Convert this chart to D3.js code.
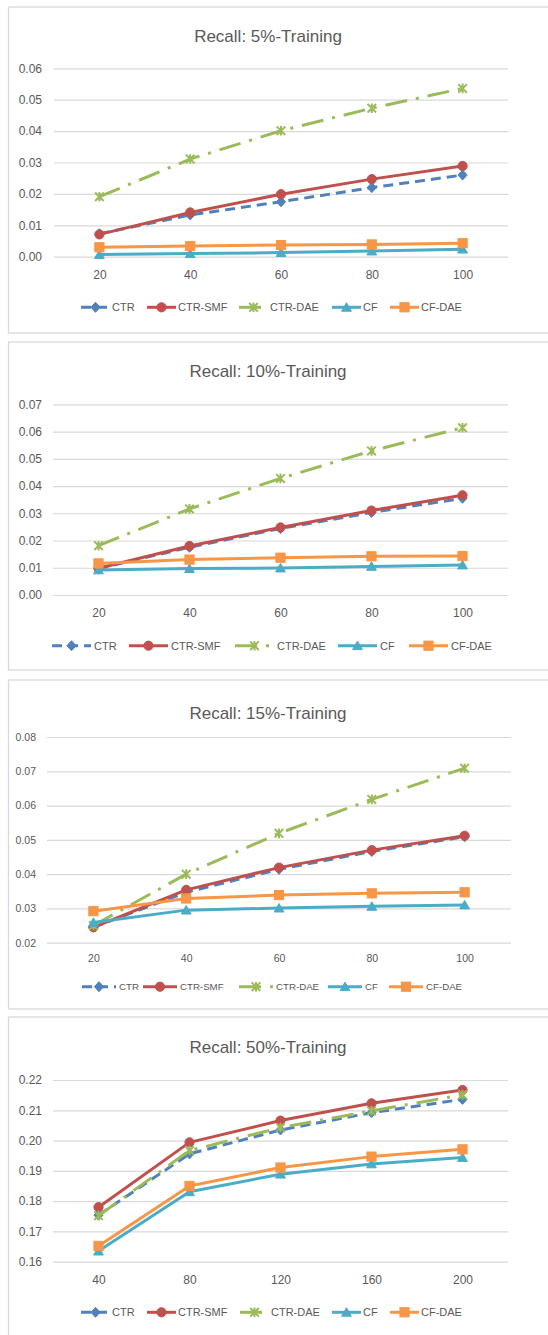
<!DOCTYPE html>
<html>
<head>
<meta charset="utf-8">
<script src="https://cdn.jsdelivr.net/npm/d3@7"></script>
<style>
  html, body { margin: 0; padding: 0; background: #ffffff; }
  svg { display: block; }
  text { font-family: "Liberation Sans", Arial, sans-serif; fill: #595959; }
</style>
</head>
<body>
<svg id="chart" width="548" height="1335"></svg>
<script>
// ---- data ----
const seriesNames = ["CTR", "CTR-SMF", "CTR-DAE", "CF", "CF-DAE"];
const topNSmall = ["20", "40", "60", "80", "100"];
const topNLarge = ["40", "80", "120", "160", "200"];

const recall5_CTR    = [0.0073, 0.0133, 0.0175, 0.0220, 0.0260];
const recall5_CTRSMF = [0.0071, 0.0141, 0.0199, 0.0247, 0.0289];
const recall5_CTRDAE = [0.0191, 0.0311, 0.0401, 0.0473, 0.0536];
const recall5_CF     = [0.0007, 0.0010, 0.0013, 0.0018, 0.0024];
const recall5_CFDAE  = [0.0030, 0.0034, 0.0037, 0.0039, 0.0043];

const recall10_CTR    = [0.0097, 0.0175, 0.0244, 0.0303, 0.0355];
const recall10_CTRSMF = [0.0098, 0.0180, 0.0248, 0.0310, 0.0366];
const recall10_CTRDAE = [0.0181, 0.0316, 0.0428, 0.0529, 0.0614];
const recall10_CF     = [0.0092, 0.0097, 0.0099, 0.0105, 0.0110];
const recall10_CFDAE  = [0.0116, 0.0130, 0.0137, 0.0142, 0.0143];

const recall15_CTR    = [0.0245, 0.0347, 0.0414, 0.0466, 0.0509];
const recall15_CTRSMF = [0.0245, 0.0354, 0.0419, 0.0470, 0.0512];
const recall15_CTRDAE = [0.0250, 0.0400, 0.0519, 0.0618, 0.0709];
const recall15_CF     = [0.0259, 0.0295, 0.0301, 0.0306, 0.0310];
const recall15_CFDAE  = [0.0292, 0.0329, 0.0339, 0.0344, 0.0347];

const recall50_CTR    = [0.1754, 0.1956, 0.2035, 0.2092, 0.2136];
const recall50_CTRSMF = [0.1780, 0.1994, 0.2066, 0.2123, 0.2167];
const recall50_CTRDAE = [0.1752, 0.1967, 0.2043, 0.2098, 0.2151];
const recall50_CF     = [0.1635, 0.1831, 0.1889, 0.1923, 0.1944];
const recall50_CFDAE  = [0.1652, 0.1850, 0.1911, 0.1947, 0.1971];

const yTicks5  = [0.00, 0.01, 0.02, 0.03, 0.04, 0.05, 0.06];
const yTicks10 = [0.00, 0.01, 0.02, 0.03, 0.04, 0.05, 0.06, 0.07];
const yTicks15 = [0.02, 0.03, 0.04, 0.05, 0.06, 0.07, 0.08];
const yTicks50 = [0.16, 0.17, 0.18, 0.19, 0.20, 0.21, 0.22];

// ---- series styling ----
const styles = {
  "CTR":     { color: "#4F81BD", dash: "10,6",        marker: "diamond" },
  "CTR-SMF": { color: "#C0504D", dash: null,          marker: "circle" },
  "CTR-DAE": { color: "#9BBB59", dash: "22,9,3,9",    marker: "star" },
  "CF":      { color: "#4BACC6", dash: null,          marker: "triangle" },
  "CF-DAE":  { color: "#F79646", dash: null,          marker: "square" }
};

// ---- panel layout ----
const panels = [
  { title: "Recall: 5%-Training", cats: topNSmall, ticks: yTicks5,
    values: [recall5_CTR, recall5_CTRSMF, recall5_CTRDAE, recall5_CF, recall5_CFDAE],
    box: [7, 333], plot: { l: 54, r: 508, t: 68.3, b: 256.7 },
    titleY: 41.5, xLabelY: 275, legendY: 307.3,
    legendX: [81, 147, 239, 332, 390], legendLen: 29, legendGap: 2,
    tickFs: 12, legendFs: 11, tickRight: 42 },
  { title: "Recall: 10%-Training", cats: topNSmall, ticks: yTicks10,
    values: [recall10_CTR, recall10_CTRSMF, recall10_CTRDAE, recall10_CF, recall10_CFDAE],
    box: [342, 670], plot: { l: 53, r: 508, t: 404.3, b: 595 },
    titleY: 377, xLabelY: 612.3, legendY: 645.7,
    legendX: [52, 129, 235, 338, 409], legendLen: 39, legendGap: 3,
    tickFs: 12, legendFs: 11, tickRight: 42 },
  { title: "Recall: 15%-Training", cats: topNSmall, ticks: yTicks15,
    values: [recall15_CTR, recall15_CTRSMF, recall15_CTRDAE, recall15_CF, recall15_CFDAE],
    box: [680, 1009], plot: { l: 47, r: 511, t: 737, b: 942.7 },
    titleY: 719, xLabelY: 958.3, legendY: 986.7,
    legendX: [82, 143, 239, 328, 389], legendLen: 34, legendGap: 3,
    tickFs: 10.5, legendFs: 9.7, tickRight: 36 },
  { title: "Recall: 50%-Training", cats: topNLarge, ticks: yTicks50,
    values: [recall50_CTR, recall50_CTRSMF, recall50_CTRDAE, recall50_CF, recall50_CFDAE],
    box: [1017, 1345], plot: { l: 53, r: 508, t: 1080, b: 1261.7 },
    titleY: 1053, xLabelY: 1279.3, legendY: 1312.3,
    legendX: [81, 147, 240, 332, 390], legendLen: 29, legendGap: 2,
    tickFs: 12, legendFs: 11, tickRight: 42 }
];

const svg = d3.select("#chart");

function drawMarker(g, type, x, y, color) {
  const s = 4.6;
  if (type === "circle") {
    g.append("circle").attr("cx", x).attr("cy", y).attr("r", s)
      .attr("fill", color).attr("stroke", color).attr("stroke-width", 1);
  } else if (type === "square") {
    g.append("rect").attr("x", x - s).attr("y", y - s).attr("width", 2 * s).attr("height", 2 * s)
      .attr("fill", color).attr("stroke", color).attr("stroke-width", 1);
  } else if (type === "diamond") {
    g.append("path").attr("d", `M${x},${y - s - 0.4}L${x + s},${y}L${x},${y + s + 0.4}L${x - s},${y}Z`)
      .attr("fill", color).attr("stroke", color).attr("stroke-width", 1);
  } else if (type === "triangle") {
    g.append("path").attr("d", `M${x},${y - s}L${x + s + 0.3},${y + s * 0.85}L${x - s - 0.3},${y + s * 0.85}Z`)
      .attr("fill", color).attr("stroke", color).attr("stroke-width", 1);
  } else if (type === "star") {
    const r = 4.3;
    g.append("path")
      .attr("d", `M${x - r},${y - r}L${x + r},${y + r}M${x - r},${y + r}L${x + r},${y - r}M${x},${y - r - 0.5}L${x},${y + r + 0.5}`)
      .attr("fill", "none").attr("stroke", color).attr("stroke-width", 2);
  }
}

panels.forEach(p => {
  const g = svg.append("g");

  // chart frame
  g.append("rect")
    .attr("x", 8.5).attr("y", p.box[0])
    .attr("width", 560).attr("height", p.box[1] - p.box[0])
    .attr("fill", "#ffffff").attr("stroke", "#d9d9d9").attr("stroke-width", 1.3);

  const x = d3.scalePoint().domain(p.cats).range([p.plot.l, p.plot.r]).padding(0.5);
  const y = d3.scaleLinear().domain([p.ticks[0], p.ticks[p.ticks.length - 1]]).range([p.plot.b, p.plot.t]);

  // horizontal gridlines + y tick labels
  const yAxis = d3.axisLeft(y)
    .tickValues(p.ticks)
    .tickFormat(d3.format(".2f"))
    .tickSize(-(p.plot.r - p.plot.l))
    .tickPadding(p.plot.l - p.tickRight);
  const yg = g.append("g").attr("transform", `translate(${p.plot.l},0)`).call(yAxis);
  yg.select(".domain").remove();
  yg.selectAll(".tick line").attr("stroke", "#d9d9d9").attr("stroke-width", 1.2);
  yg.selectAll(".tick text")
    .attr("fill", "#595959")
    .style("font-family", '"Liberation Sans", Arial, sans-serif')
    .style("font-size", p.tickFs + "px");

  // category labels
  const xAxis = d3.axisBottom(x).tickSize(0).tickPadding(0);
  const xg = g.append("g").attr("transform", `translate(0,${p.xLabelY})`).call(xAxis);
  xg.select(".domain").remove();
  xg.selectAll(".tick text")
    .attr("y", 0).attr("dy", "0.35em")
    .attr("fill", "#595959")
    .style("font-family", '"Liberation Sans", Arial, sans-serif')
    .style("font-size", p.tickFs + "px");

  // title
  g.append("text")
    .attr("x", 268).attr("y", p.titleY)
    .attr("text-anchor", "middle")
    .style("font-size", "17px")
    .text(p.title);

  // series
  const line = d3.line().x((d, i) => x(p.cats[i])).y(d => y(d));
  seriesNames.forEach((name, si) => {
    const st = styles[name];
    const vals = p.values[si];
    const sg = g.append("g");
    sg.append("path")
      .datum(vals)
      .attr("d", line)
      .attr("fill", "none")
      .attr("stroke", st.color)
      .attr("stroke-width", 3)
      .attr("stroke-linejoin", "round")
      .attr("stroke-dasharray", st.dash);
    vals.forEach((v, i) => drawMarker(sg, st.marker, x(p.cats[i]), y(v), st.color));
  });

  // legend
  seriesNames.forEach((name, si) => {
    const st = styles[name];
    const lx = p.legendX[si];
    const lg = g.append("g");
    lg.append("line")
      .attr("x1", lx).attr("x2", lx + p.legendLen)
      .attr("y1", p.legendY).attr("y2", p.legendY)
      .attr("stroke", st.color).attr("stroke-width", 3)
      .attr("stroke-dasharray", st.dash);
    drawMarker(lg, st.marker, lx + p.legendLen / 2, p.legendY, st.color);
    lg.append("text")
      .attr("x", lx + p.legendLen + p.legendGap)
      .attr("y", p.legendY)
      .attr("dy", "0.35em")
      .style("font-size", p.legendFs + "px")
      .text(name);
  });
});
</script>
</body>
</html>
